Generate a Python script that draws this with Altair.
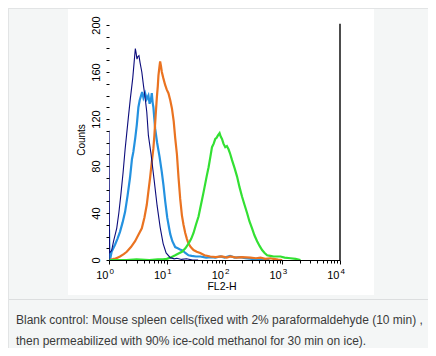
import altair as alt
import pandas as pd

# ---------------- data ----------------
navy_x = [1.0, 1.0, 1.02, 1.11, 1.2, 1.36, 1.48, 1.6, 1.75, 1.9, 2.03, 2.16, 2.35, 2.58, 2.72, 2.86,
          2.95, 3.05, 3.15, 3.3, 3.45, 3.7, 3.94, 4.2, 4.51, 4.81, 5.35, 6.05, 6.82, 7.68, 8.66,
          9.75, 11.5, 13.5, 15, 18, 22, 28, 35]
navy_y = [0, 110, 6, 8, 16, 27, 40, 55, 74, 94, 108, 121, 138, 155, 168, 180,
          176, 171, 173, 174, 168, 160, 149, 139, 126, 106, 90, 68, 46, 28, 14,
          6, 2, 1, 1.5, 0.5, 1, 0, 0]

blue_x = [1.0, 1.0, 1.02, 1.06, 1.11, 1.27, 1.4, 1.55, 1.72, 1.9, 2.1, 2.31, 2.5, 2.64, 2.85, 3.03,
          3.23, 3.4, 3.55, 3.75, 3.95, 4.22, 4.5, 4.81, 5.05, 5.3, 5.51, 5.7, 5.87, 6.1, 6.29, 6.8,
          7.5, 8.2, 8.76, 9.4, 10.2, 11.0, 11.5, 12.5, 14, 15.5, 17, 19, 21, 23.8, 27, 32, 38, 48,
          60, 69, 85, 100, 125, 150, 188, 230, 300, 417, 600]
blue_y = [0, 26, 3, 2, 7, 13, 18, 24, 32, 41, 55, 70, 86, 92, 104, 115,
          130, 136, 139, 143, 138, 142, 137, 140, 133, 136, 142, 134, 130, 120, 112, 100,
          88, 75, 64, 50, 36, 27, 22, 16, 11, 10, 9, 8, 6, 4, 3.5, 3, 3, 2,
          2.5, 2, 3, 2, 3.5, 2, 2.5, 1.5, 1, 0.5, 0]

orange_x = [1.0, 1.13, 1.2, 1.27, 1.4, 1.55, 1.8, 2.03, 2.4, 2.83, 3.2, 3.7, 4.1, 4.51, 4.8, 5.15,
            5.5, 5.87, 6.11, 6.4, 6.73, 7.0, 7.18, 7.45, 7.68, 7.95, 8.22, 8.7, 9.38, 10.0, 10.7,
            11.5, 12.3, 13.2, 14.0, 15.0, 16.0, 17.1, 18.3, 19.5, 20.9, 22.3, 23.8, 26, 29.1, 33,
            38, 45, 56.7, 70, 90, 110, 126, 160, 200, 281, 350, 420, 511, 620, 703, 850, 1000]
orange_y = [0, 0.5, 1, 1, 2, 3, 5, 7, 11, 16, 21, 27, 36, 47, 58, 70,
            83, 95, 106, 122, 138, 148, 157, 164, 169, 165, 160, 155, 149, 145, 142,
            136, 129, 118, 104, 90, 70, 52, 38, 30, 23, 18, 14, 11, 8.5, 7,
            6, 4, 3, 2.5, 3, 2, 3, 2, 2.5, 2, 1.5, 2, 1, 1.5, 1, 0.3, 0]

green_x = [1, 2, 3, 5, 7, 8.66, 10, 11.5, 12.7, 14, 16, 18.3, 21, 23.8, 26.5, 29.1, 32, 35.5, 38,
           40.7, 43.5, 46.4, 49.5, 53, 57, 60.7, 65, 69.2, 73, 77, 82.2, 86, 90.5, 96, 103, 110,
           118, 126, 135, 150, 165, 182, 201, 222, 246, 270, 300, 330, 367, 405, 448, 495, 547,
           620, 711, 820, 931, 1100, 1387, 1700, 2070]
green_y = [0, 0, 0.5, 0, 0.5, 0.5, 1, 2, 3, 4, 5.5, 7, 10, 14, 18, 23, 30, 37, 44,
           51, 58, 65, 72, 79, 88, 96, 99, 103, 104, 106, 108, 105, 103, 99, 96, 97,
           94, 90, 85, 78, 71, 62, 54, 47, 40, 33, 27, 21, 16, 12, 8.5, 6, 4,
           3.5, 3, 3, 3, 2, 1.5, 1, 0]

decades = [1, 10, 100, 1000, 10000]
exponents = ["0", "1", "2", "3", "4"]
y_ticks = list(range(0, 201, 10))
x_ticks = [m * 10 ** e for e in range(4) for m in range(1, 10)] + [10000]

x_title = "FL2-H"
y_title = "Counts"
caption1 = "Blank control: Mouse spleen cells(fixed with 2% paraformaldehyde (10 min) ,"
caption2 = "then permeabilized with 90% ice-cold methanol for 30 min on ice)."

# ---------------- chart ----------------
FONT = "Liberation Sans"
W, H = 231, 235

xscale = alt.Scale(type="log", domain=[1, 10000], nice=False)
yscale = alt.Scale(domain=[0, 200], nice=False)

major_test = "datum.value == 1 || datum.value == 10 || datum.value == 100 || datum.value == 1000 || datum.value == 10000"
xaxis = alt.Axis(values=x_ticks, labels=False, title=None, grid=False,
                 domainColor="black", domainWidth=1, tickColor="black", tickWidth=1,
                 tickSize={"condition": {"test": major_test, "value": 4}, "value": 3},
                 zindex=1)
yaxis = alt.Axis(values=y_ticks, title=None, grid=False, domain=False,
                 tickColor="black", tickWidth=1, tickSize=3,
                 labelExpr="datum.value % 40 == 0 ? datum.label : ''",
                 labelAngle=270, labelAlign="center", labelBaseline="bottom",
                 labelPadding=5, labelFont=FONT, labelFontSize=11, labelColor="black",
                 zindex=1)

X = lambda f: alt.X(f, scale=xscale, axis=xaxis)
Y = lambda f: alt.Y(f, scale=yscale, axis=yaxis)

one = pd.DataFrame({"a": [0]})

white_box = alt.Chart(one).mark_rect(color="white").encode(
    x=alt.value(-41), x2=alt.value(265), y=alt.value(-16), y2=alt.value(270))
sep = alt.Chart(one).mark_rule(color="#dcdedf", strokeWidth=1).encode(
    x=alt.value(-101), x2=alt.value(319), y=alt.value(274.5))
top_border = alt.Chart(one).mark_rule(color="#e2e4e5", strokeWidth=1).encode(
    x=alt.value(-101), x2=alt.value(319), y=alt.value(-16.5))
left_border = alt.Chart(one).mark_rule(color="#e2e4e5", strokeWidth=1).encode(
    x=alt.value(-100.5), y=alt.value(-17), y2=alt.value(323))


def series(xs, ys, color, width):
    df = pd.DataFrame({"x": xs, "y": ys, "i": list(range(len(xs)))})
    return alt.Chart(df).mark_line(color=color, strokeWidth=width, clip=True).encode(
        x=X("x:Q"), y=Y("y:Q"), order="i:Q")


blue = series(blue_x, blue_y, "#2492e0", 2.2)
orange = series(orange_x, orange_y, "#ea7321", 2.2)
green = series(green_x, green_y, "#33e033", 2.2)
navy = series(navy_x, navy_y, "#0c0c7c", 1.1)

right_line = alt.Chart(pd.DataFrame({"x": [10000], "y": [0], "y2": [201]})).mark_rule(
    color="black", strokeWidth=1.4).encode(x=X("x:Q"), y=Y("y:Q"), y2="y2:Q")

tick_df = pd.DataFrame({"v": decades, "t": ["10"] * 5, "e": exponents})
ten = alt.Chart(tick_df).mark_text(align="right", baseline="alphabetic", dx=-0.5,
                                   font=FONT, fontSize=11, color="black").encode(
    x=X("v:Q"), y=alt.value(254), text="t:N")
exp = alt.Chart(tick_df).mark_text(align="left", baseline="alphabetic", dx=0.5,
                                   font=FONT, fontSize=8, color="black").encode(
    x=X("v:Q"), y=alt.value(249), text="e:N")

xt = alt.Chart(pd.DataFrame({"t": [x_title]})).mark_text(
    align="center", baseline="alphabetic", font=FONT, fontSize=10.5, color="black").encode(
    x=alt.value(113), y=alt.value(265), text="t:N")
yt = alt.Chart(pd.DataFrame({"t": [y_title]})).mark_text(
    align="center", baseline="middle", angle=270, font=FONT, fontSize=10, color="black").encode(
    x=alt.value(-27), y=alt.value(115), text="t:N")

cap = alt.Chart(pd.DataFrame({"t": [caption1, caption2], "yy": [299, 320]})).mark_text(
    align="left", baseline="alphabetic", font=FONT, fontSize=12, color="#3a3a3a").encode(
    x=alt.value(-93), y=alt.Y("yy:Q", scale=None), text="t:N")

chart = alt.layer(
    white_box, sep, top_border, left_border,
    blue, orange, green, navy, right_line, ten, exp, xt, yt, cap
).properties(
    width=W, height=H,
    autosize=alt.AutoSizeParams(type="none"),
    padding={"left": 101, "top": 17, "right": 88, "bottom": 88},
).configure(background="#f4f6f6").configure_view(stroke=None)

chart.save("out.html", embed_options={"renderer": "svg", "actions": False})
